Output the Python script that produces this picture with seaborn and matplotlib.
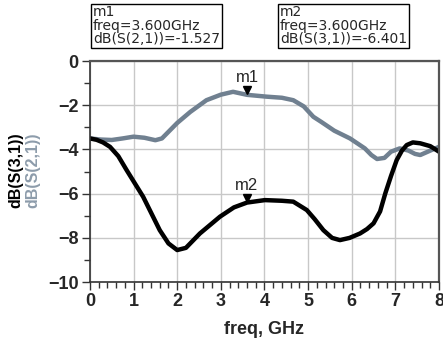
import matplotlib
matplotlib.use("Agg")
import matplotlib.pyplot as plt
import pandas as pd
import seaborn as sns
from matplotlib.ticker import MultipleLocator

# curves (freq in GHz, dB)
freq_s21 = [0.0, 0.25, 0.5, 0.75, 1.0, 1.25, 1.5, 1.65, 1.8, 2.0, 2.3, 2.67, 3.0, 3.28, 3.6, 4.05, 4.4, 4.66, 4.9, 5.12, 5.3, 5.6, 5.96, 6.3, 6.45, 6.58, 6.75, 6.9, 7.1, 7.3, 7.45, 7.57, 7.8, 8.0]
s21 = [-3.5, -3.55, -3.57, -3.5, -3.42, -3.47, -3.58, -3.5, -3.2, -2.8, -2.3, -1.77, -1.52, -1.39, -1.527, -1.61, -1.66, -1.77, -2.05, -2.52, -2.75, -3.15, -3.5, -3.95, -4.25, -4.43, -4.38, -4.1, -3.95, -4.05, -4.2, -4.25, -4.05, -3.88]
freq_s31 = [0.0, 0.15, 0.3, 0.46, 0.65, 0.84, 1.22, 1.6, 1.8, 2.0, 2.2, 2.52, 2.98, 3.3, 3.6, 4.01, 4.4, 4.66, 4.97, 5.15, 5.35, 5.55, 5.73, 5.95, 6.19, 6.35, 6.5, 6.65, 6.77, 6.9, 7.03, 7.15, 7.26, 7.4, 7.57, 7.8, 8.0]
s31 = [-3.5, -3.56, -3.68, -3.88, -4.3, -4.93, -6.14, -7.65, -8.25, -8.55, -8.45, -7.8, -7.04, -6.62, -6.401, -6.29, -6.32, -6.36, -6.74, -7.15, -7.65, -8.0, -8.1, -8.0, -7.8, -7.6, -7.34, -6.8, -5.98, -5.2, -4.48, -4.05, -3.8, -3.68, -3.72, -3.85, -4.1]

marker_names = ["m1", "m2"]
marker_freq = [3.6, 3.6]
marker_vals = [-1.527, -6.401]
marker_traces = ["dB(S(2,1))", "dB(S(3,1))"]

gray = "#708090"
sns.set_style("white")
plt.rcParams["font.family"] = ["Liberation Sans", "DejaVu Sans"]

df = pd.concat([
    pd.DataFrame({"freq": freq_s21, "val": s21, "trace": "dB(S(2,1))"}),
    pd.DataFrame({"freq": freq_s31, "val": s31, "trace": "dB(S(3,1))"}),
])

fig = plt.figure(figsize=(4.43, 3.47), dpi=100)
ax = fig.add_axes([0.203, 0.187, 0.788, 0.637])

sns.lineplot(data=df, x="freq", y="val", hue="trace", sort=False,
             palette={"dB(S(2,1))": gray, "dB(S(3,1))": "black"},
             linewidth=3.2, legend=False, ax=ax, estimator=None)

ax.set_xlim(0, 8)
ax.set_ylim(-10, 0)
ax.xaxis.set_major_locator(MultipleLocator(1))
ax.xaxis.set_minor_locator(MultipleLocator(0.2))
ax.yaxis.set_major_locator(MultipleLocator(2))
ax.yaxis.set_minor_locator(MultipleLocator(1))
ax.grid(True, which="major", color="#c8c8c8", linewidth=1.0)
ax.set_axisbelow(True)
ax.tick_params(axis="both", which="major", direction="out", length=6, width=1,
               color="#333333", labelsize=13, pad=2)
ax.tick_params(axis="both", which="minor", direction="out", length=4, width=1,
               color="#333333")
ax.tick_params(axis="y", which="both", left=True)
ax.tick_params(axis="x", which="both", bottom=True)
for lab in ax.get_xticklabels() + ax.get_yticklabels():
    lab.set_fontweight("bold")
for side in ["left", "bottom"]:
    ax.spines[side].set_color("#333333")
    ax.spines[side].set_linewidth(1.2)
for side in ["top", "right"]:
    ax.spines[side].set_color("#555555")
    ax.spines[side].set_linewidth(1.6)

ax.set_xlabel("freq, GHz", fontsize=13, fontweight="bold", labelpad=8)
ax.set_ylabel("")
fig.text(0.035, 0.51, "dB(S(3,1))", rotation=90, ha="center", va="center",
         fontsize=11.5, fontweight="bold", color="black")
fig.text(0.075, 0.51, "dB(S(2,1))", rotation=90, ha="center", va="center",
         fontsize=11.5, fontweight="bold", color="#8d9cab")

# marker triangles and labels
for name, fx, v in zip(marker_names, marker_freq, marker_vals):
    ax.plot([fx], [v + 0.2], marker="v", color="black", markersize=6,
            linestyle="none", zorder=5)
    ax.text(fx, v + 0.45, name, ha="center", va="bottom", fontsize=12)

# marker readout boxes
box_x = [0.21, 0.632]
for bx, name, fx, v, tr in zip(box_x, marker_names, marker_freq, marker_vals, marker_traces):
    txt = f"{name}\nfreq={fx:.3f}GHz\n{tr}={v:.3f}"
    fig.text(bx, 0.985, txt, ha="left", va="top", fontsize=10, linespacing=0.95,
             family=["DejaVu Sans"],
             bbox=dict(boxstyle="square,pad=0.12", facecolor="white",
                       edgecolor="black", linewidth=1))

fig.savefig("out.png", dpi=100)
